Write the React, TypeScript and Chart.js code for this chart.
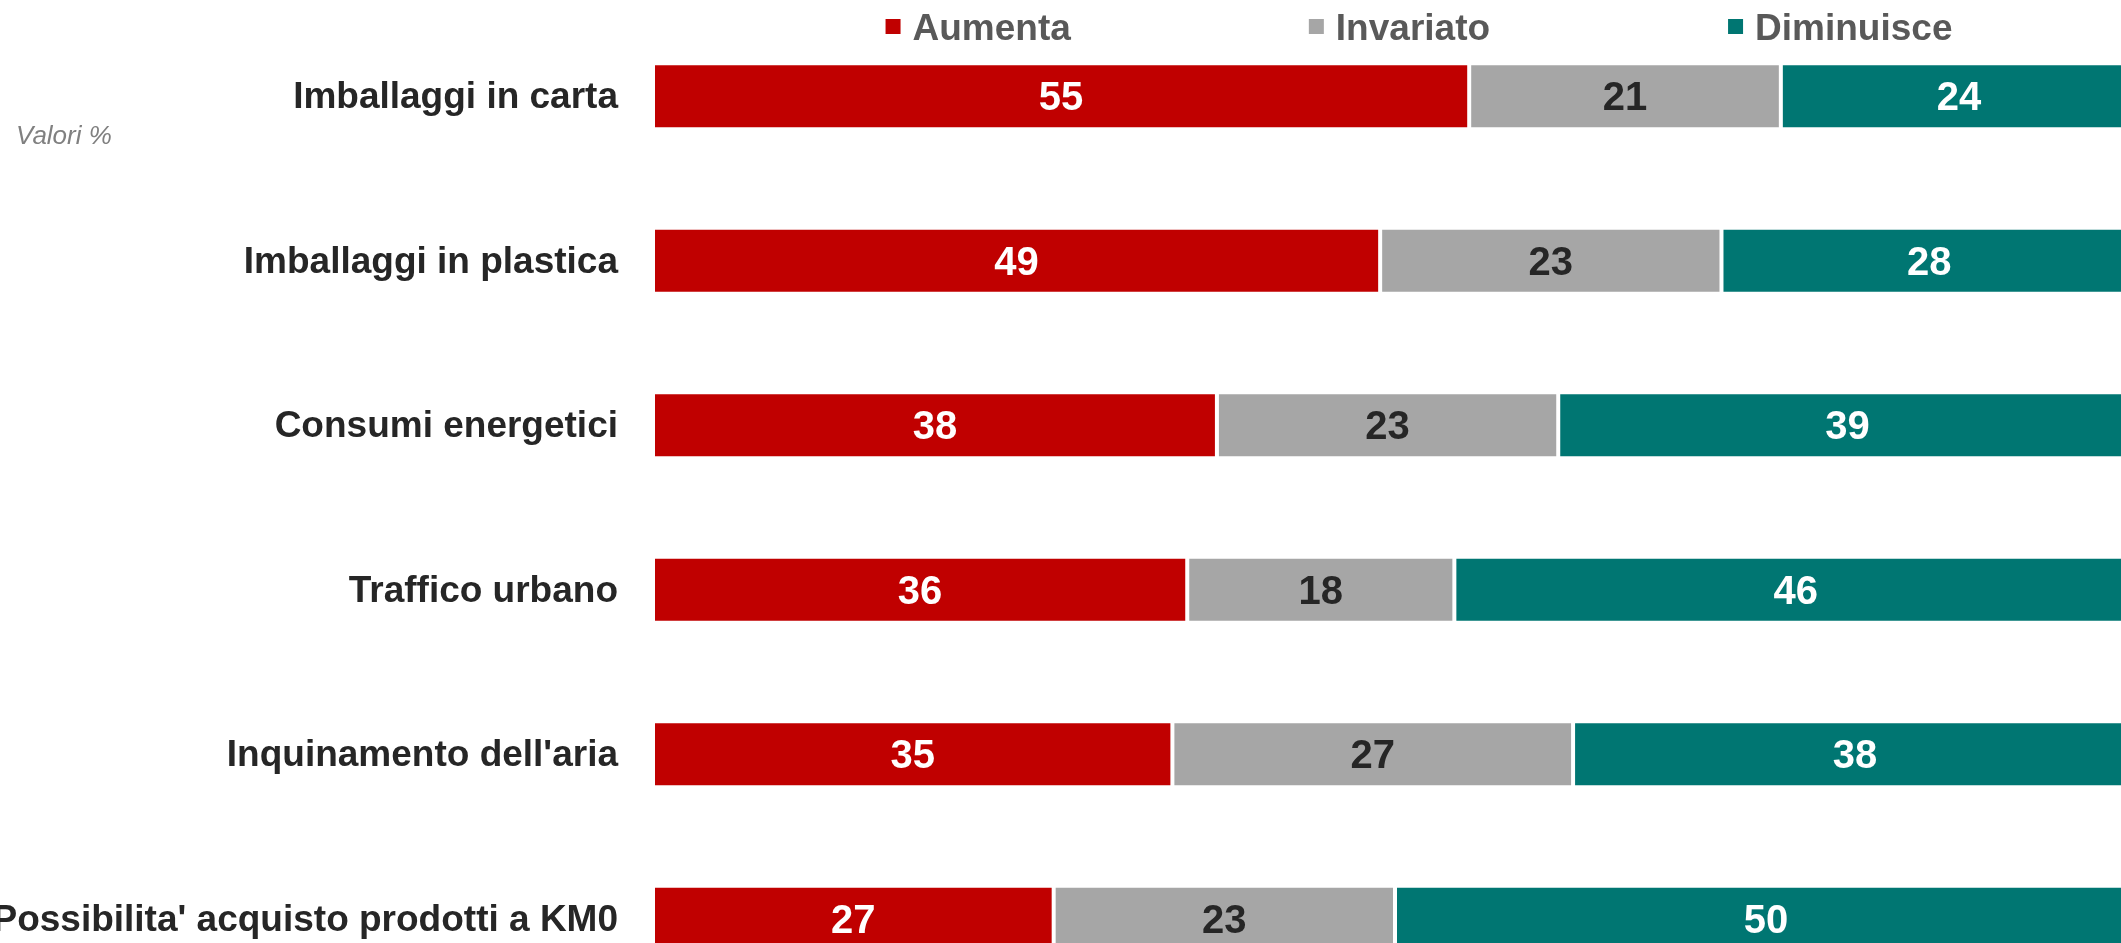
import React, { useEffect, useRef } from "react";
import { Chart, registerables } from "chart.js";

Chart.register(...registerables);

const categories = [
  "Imballaggi in carta",
  "Imballaggi in plastica",
  "Consumi energetici",
  "Traffico urbano",
  "Inquinamento dell'aria",
  "Possibilita' acquisto prodotti a KM0",
];
const seriesNames = ["Aumenta", "Invariato", "Diminuisce"];
const aumenta = [55, 49, 38, 36, 35, 27];
const invariato = [21, 23, 23, 18, 27, 23];
const diminuisce = [24, 28, 39, 46, 38, 50];
const seriesColors = ["#C00000", "#A6A6A6", "#007672"];
const labelColors = ["#FFFFFF", "#262626", "#FFFFFF"];
const noteText = "Valori %";

const FONT = "'Liberation Sans', Arial, sans-serif";

export default function App() {
  const ref = useRef<HTMLCanvasElement | null>(null);

  useEffect(() => {
    const canvas = ref.current;
    if (!canvas) return;

    const valueLabels = {
      id: "valueLabels",
      afterDatasetsDraw(chart: any) {
        const ctx = chart.ctx;
        ctx.save();
        ctx.font = `bold 40px ${FONT}`;
        ctx.textAlign = "center";
        ctx.textBaseline = "alphabetic";
        chart.data.datasets.forEach((ds: any, di: number) => {
          const meta = chart.getDatasetMeta(di);
          meta.data.forEach((el: any, i: number) => {
            const cx = (el.x + el.base) / 2;
            ctx.fillStyle = labelColors[di];
            ctx.fillText(String(ds.data[i]), cx, el.y + 14);
          });
        });
        ctx.restore();
      },
    };

    const customLegend = {
      id: "customLegend",
      afterDraw(chart: any) {
        const ctx = chart.ctx;
        ctx.save();
        ctx.font = `bold 37px ${FONT}`;
        ctx.textBaseline = "alphabetic";
        ctx.textAlign = "left";
        const box = 15;
        const boxToText = 27;
        const gap = 238;
        const widths = seriesNames.map((n) => ctx.measureText(n).width);
        const total =
          widths.reduce((a, w) => a + boxToText + w, 0) + gap * (seriesNames.length - 1);
        let x = 1419 - total / 2;
        seriesNames.forEach((n, i) => {
          ctx.fillStyle = seriesColors[i];
          ctx.fillRect(x, 19, box, box);
          ctx.fillStyle = "#595959";
          ctx.fillText(n, x + boxToText, 40);
          x += boxToText + widths[i] + gap;
        });
        ctx.font = `italic 26px ${FONT}`;
        ctx.fillStyle = "#808080";
        ctx.fillText(noteText, 16, 144);
        ctx.restore();
      },
    };

    const chart = new Chart(canvas, {
      type: "bar",
      data: {
        labels: categories,
        datasets: seriesNames.map((name, i) => ({
          label: name,
          data: [aumenta, invariato, diminuisce][i],
          backgroundColor: seriesColors[i],
          borderColor: "#FFFFFF",
          borderWidth: 2,
          borderSkipped: false,
          barPercentage: 0.401,
          categoryPercentage: 1,
        })),
      },
      options: {
        indexAxis: "y",
        responsive: false,
        maintainAspectRatio: false,
        animation: false,
        devicePixelRatio: 1,
        layout: { padding: { top: 14, bottom: 0, left: 0, right: 0 } },
        plugins: {
          legend: { display: false },
          tooltip: { enabled: false },
          title: { display: false },
        },
        scales: {
          x: {
            stacked: true,
            min: 0,
            max: 100,
            display: false,
          },
          y: {
            stacked: true,
            grid: { display: false, drawTicks: false },
            border: { display: false },
            ticks: {
              autoSkip: false,
              padding: 35,
              labelOffset: 2,
              color: "#262626",
              font: { family: FONT, size: 37, weight: "bold" },
            },
            afterFit(scale: any) {
              scale.width = 653;
              scale.paddingTop = 0;
              scale.paddingBottom = 0;
            },
          },
        },
      },
      plugins: [valueLabels, customLegend],
    } as any);

    return () => chart.destroy();
  }, []);

  return (
    <div
      style={{
        position: "fixed",
        left: 0,
        top: 0,
        width: 2121,
        height: 943,
        overflow: "hidden",
        background: "#FFFFFF",
      }}
    >
      <canvas
        ref={ref}
        width={2137}
        height={1001}
        style={{ display: "block", width: 2137, height: 1001 }}
      />
    </div>
  );
}
